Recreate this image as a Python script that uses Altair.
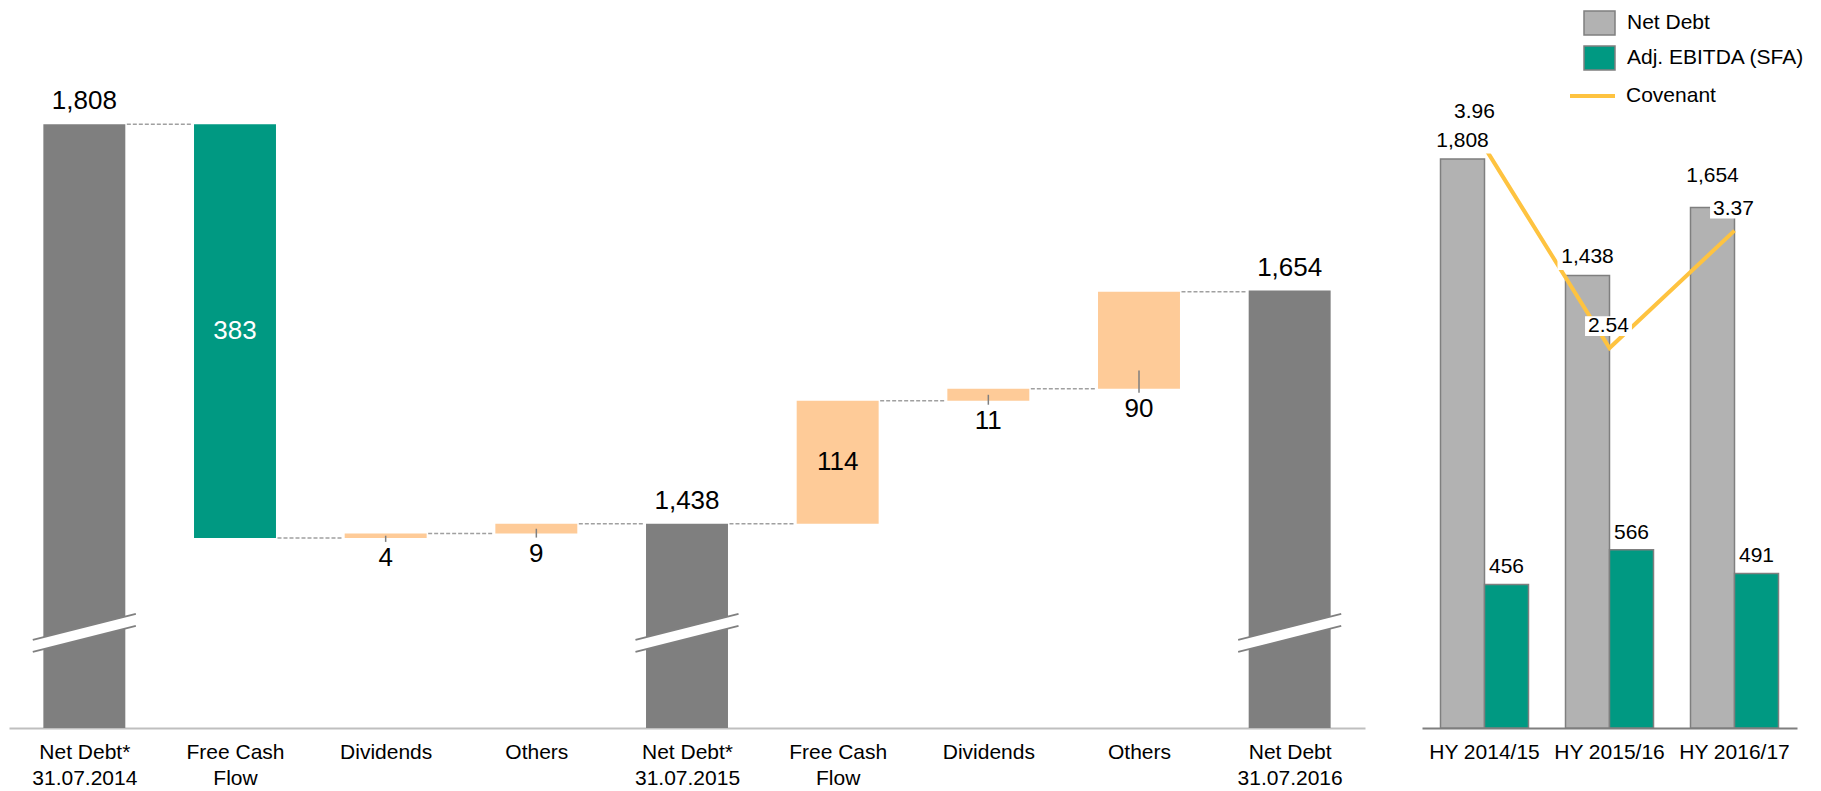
import json
import altair as alt
import pandas as pd

# ---------------- data ----------------
wf_categories = ["Net Debt*|31.07.2014", "Free Cash|Flow", "Dividends", "Others",
                 "Net Debt*|31.07.2015", "Free Cash|Flow", "Dividends", "Others",
                 "Net Debt|31.07.2016"]
wf_kinds = ["total", "decrease", "increase", "increase", "total",
            "increase", "increase", "increase", "total"]
wf_values = [1808, 383, 4, 9, 1438, 114, 11, 90, 1654]

periods = ["HY 2014/15", "HY 2015/16", "HY 2016/17"]
series_names = ["Net Debt", "Adj. EBITDA (SFA)"]
net_debt = [1808, 1438, 1654]
adj_ebitda = [456, 566, 491]
covenant = [3.96, 2.54, 3.37]

# ---------------- styling ----------------
FONT = "Liberation Sans"
GRAY = "#7f7f7f"
GREEN = "#009982"
PEACH = "#fecb98"
LIGHT = "#b2b2b2"
YELLOW = "#fec340"
HW = 0.272      # half bar width (in category units)
BW = 0.342      # half width of break mark
WF_DOMAIN = [1249, 1923]
BREAK_LO, BREAK_HI = 1325, 1349

# ---------------- waterfall table ----------------
rows = []
running = 0
for i, (cat, kind, v) in enumerate(zip(wf_categories, wf_kinds, wf_values)):
    if kind == "total":
        start, end = 0, v
        running = v
        color = GRAY
    elif kind == "decrease":
        start, end = running, running - v
        running -= v
        color = GREEN
    else:
        start, end = running, running + v
        running += v
        color = PEACH
    lo, hi = min(start, end), max(start, end)
    if kind == "total":
        pos = "top"
    elif cat.startswith("Free Cash"):
        pos = "inside"
    else:
        pos = "below"
    rows.append(dict(i=i, x0=i - HW, x1=i + HW, start=start, end=end, lo=lo, hi=hi,
                     mid=(lo + hi) / 2, color=color, text=f"{v:,}", pos=pos,
                     tcolor="white" if kind == "decrease" else "black",
                     ticktop=lo + min((hi - lo) / 2, 17)))
wf = pd.DataFrame(rows)

conn = pd.DataFrame([dict(x0=r["i"] + HW + 0.01, x1=r["i"] + 1 - HW - 0.02, level=r["end"])
                     for r in rows[:-1]])
brk = pd.DataFrame([dict(x0=r["i"] - BW, x1=r["i"] + BW, y0=BREAK_LO, y1=BREAK_HI)
                    for r in rows if r["pos"] == "top"])

xs = alt.Scale(domain=[-0.5, 8.5], nice=False, zero=False)
ys = alt.Scale(domain=WF_DOMAIN, nice=False, zero=False, clamp=True)
label_expr = "split(" + json.dumps(wf_categories) + "[datum.value], '|')"
xaxis = alt.Axis(values=list(range(9)), labelExpr=label_expr, title=None, ticks=False,
                 grid=False, domainColor="#bfbfbf", domainWidth=2, labelFontSize=21,
                 labelColor="black", labelPadding=13, labelLineHeight=26,
                 labelOverlap=False, labelFlush=False, labelBound=False, labelFont=FONT)


def X(field):
    return alt.X(field, type="quantitative", scale=xs, axis=xaxis)


def Y(field):
    return alt.Y(field, type="quantitative", scale=ys, axis=None)


base = alt.Chart(wf)
bars = base.mark_rect().encode(x=X("x0"), x2="x1", y=Y("start"), y2="end",
                               fill=alt.Fill("color:N", scale=None))
connectors = alt.Chart(conn).mark_rule(strokeDash=[4, 2], color="#a0a0a0", strokeWidth=1.5).encode(
    x=X("x0"), x2="x1", y=Y("level"))
brk_white = alt.Chart(brk).mark_rule(color="white", strokeWidth=11.5, strokeCap="butt").encode(
    x=X("x0"), x2="x1", y=Y("y0"), y2="y1")
brk_top = alt.Chart(brk).mark_rule(color="#808080", strokeWidth=1.8, yOffset=-6, y2Offset=-6).encode(
    x=X("x0"), x2="x1", y=Y("y0"), y2="y1")
brk_bot = alt.Chart(brk).mark_rule(color="#808080", strokeWidth=1.8, yOffset=6, y2Offset=6).encode(
    x=X("x0"), x2="x1", y=Y("y0"), y2="y1")

xi = alt.X("i:Q", scale=xs, axis=xaxis)
top_lbl = base.transform_filter("datum.pos == 'top'").mark_text(
    fontSize=26, dy=-23, baseline="middle", color="black", font=FONT).encode(
    x=xi, y=Y("hi"), text="text:N")
in_lbl = base.transform_filter("datum.pos == 'inside'").mark_text(
    fontSize=26, baseline="middle", font=FONT).encode(
    x=xi, y=Y("mid"), text="text:N", color=alt.Color("tcolor:N", scale=None))
ticks = base.transform_filter("datum.pos == 'below'").mark_rule(
    color=GRAY, strokeWidth=1.5, y2Offset=4).encode(x=xi, y=Y("ticktop"), y2="lo")
below_lbl = base.transform_filter("datum.pos == 'below'").mark_text(
    fontSize=26, dy=20, baseline="middle", color="black", font=FONT).encode(
    x=xi, y=Y("lo"), text="text:N")

left = alt.layer(bars, connectors, brk_white, brk_top, brk_bot, top_lbl, in_lbl, ticks,
                 below_lbl).properties(width=1356, height=728)

# ---------------- right panel ----------------
rr = []
for p, nd, eb in zip(periods, net_debt, adj_ebitda):
    rr.append(dict(period=p, series=series_names[0], value=nd, text=f"{nd:,}"))
    rr.append(dict(period=p, series=series_names[1], value=eb, text=f"{eb:,}"))
dr = pd.DataFrame(rr)
dr["k"] = dr.groupby("series").cumcount()
dc = pd.DataFrame(dict(period=periods, cov=covenant, name="Covenant",
                       text=[f"{c:.2f}" for c in covenant], k=range(3)))

xb = alt.Scale(paddingInner=0.296, paddingOuter=0.148)
xaxis_r = alt.Axis(title=None, ticks=False, grid=False, domainColor=GRAY, domainWidth=2,
                   labelFontSize=21, labelColor="black", labelPadding=13, labelAngle=0,
                   labelFont=FONT)
XR = alt.X("period:N", sort=periods, scale=xb, axis=xaxis_r)
XO = alt.XOffset("series:N", sort=series_names,
                 scale=alt.Scale(domain=series_names, paddingInner=0, paddingOuter=0))
yr_scale = alt.Scale(domain=[0, 2313], nice=False, zero=False)
YR = alt.Y("value:Q", scale=yr_scale, axis=None)
YC = alt.Y("cov:Q", scale=alt.Scale(domain=[-0.145, 5.0], nice=False, zero=False), axis=None)

RECT = "M-1,-0.77L1,-0.77L1,0.77L-1,0.77Z"
BOX = "M-1,-0.42L1,-0.42L1,0.42L-1,0.42Z"

rbars = alt.Chart(dr).mark_bar(stroke=GRAY, strokeWidth=1.5).encode(
    x=XR, xOffset=XO, y=YR,
    fill=alt.Fill("series:N", sort=series_names,
                  scale=alt.Scale(domain=series_names, range=[LIGHT, GREEN]),
                  legend=alt.Legend(title=None, orient="none", legendX=1574, legendY=6.5,
                                    symbolType=RECT, symbolSize=961, symbolStrokeColor=GRAY,
                                    symbolStrokeWidth=1.5, symbolOpacity=1, labelFontSize=21,
                                    labelOffset=11, rowPadding=3, padding=0, labelLimit=400,
                                    labelColor="black", labelFont=FONT)))
line = alt.Chart(dc).mark_line(strokeWidth=4).encode(
    x=XR, y=YC,
    stroke=alt.Stroke("name:N", scale=alt.Scale(domain=["Covenant"], range=[YELLOW]),
                      legend=alt.Legend(title=None, orient="none", legendX=1559, legendY=71.5,
                                        symbolType="stroke", symbolSize=2025,
                                        symbolStrokeWidth=4, labelFontSize=21, labelOffset=9,
                                        padding=0, labelLimit=400, labelColor="black",
                                        labelFont=FONT)))

nd_src = alt.Chart(dr).transform_filter(f"datum.series == '{series_names[0]}'")
eb_src = alt.Chart(dr).transform_filter(f"datum.series == '{series_names[1]}'")

nd_box_a = nd_src.transform_filter("datum.k < 2").mark_point(
    shape=BOX, size=3600, filled=True, color="white", opacity=1, strokeWidth=0, yOffset=-18).encode(
    x=XR, xOffset=XO, y=YR)
nd_box_b = nd_src.transform_filter("datum.k >= 2").mark_point(
    shape=BOX, size=3600, filled=True, color="white", opacity=1, strokeWidth=0, yOffset=-31).encode(
    x=XR, xOffset=XO, y=YR)
cov_box = alt.Chart(dc).transform_filter("datum.k >= 1").mark_point(
    shape=BOX, size=2200, filled=True, color="white", opacity=1, strokeWidth=0,
    yOffset=-22, xOffset=-1).encode(x=XR, y=YC)

nd_txt_a = nd_src.transform_filter("datum.k < 2").mark_text(
    fontSize=21, dy=-18, baseline="middle", color="black", font=FONT).encode(
    x=XR, xOffset=XO, y=YR, text="text:N")
nd_txt_b = nd_src.transform_filter("datum.k >= 2").mark_text(
    fontSize=21, dy=-31, baseline="middle", color="black", font=FONT).encode(
    x=XR, xOffset=XO, y=YR, text="text:N")
eb_txt = eb_src.mark_text(fontSize=21, dy=-17, baseline="middle", color="black", font=FONT).encode(
    x=XR, xOffset=XO, y=YR, text="text:N")
cov_txt_a = alt.Chart(dc).transform_filter("datum.k < 1").mark_text(
    fontSize=21, dy=-35, dx=-10, baseline="middle", color="black", font=FONT).encode(
    x=XR, y=YC, text="text:N")
cov_txt_b = alt.Chart(dc).transform_filter("datum.k >= 1").mark_text(
    fontSize=21, dy=-22, dx=-1, baseline="middle", color="black", font=FONT).encode(
    x=XR, y=YC, text="text:N")

right = alt.layer(rbars, line, nd_box_a, nd_box_b, cov_box, nd_txt_a, nd_txt_b, eb_txt,
                  cov_txt_a, cov_txt_b).resolve_scale(y="independent").properties(
    width=375, height=728)

chart = alt.hconcat(left, right, spacing=57).properties(
    padding={"left": 9, "top": 0, "right": 5, "bottom": 0},
    background="white",
).configure(font=FONT).configure_view(stroke=None)

chart.save("out.html", embed_options={"renderer": "svg", "actions": False})
